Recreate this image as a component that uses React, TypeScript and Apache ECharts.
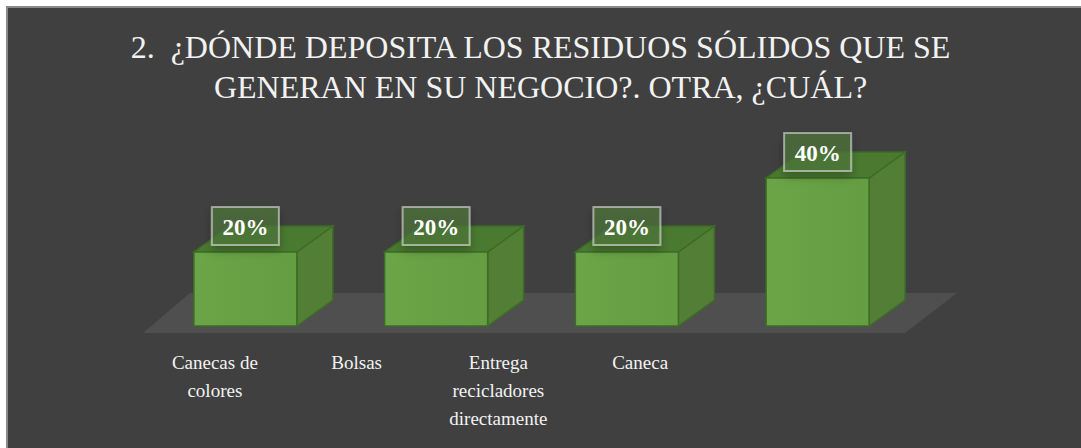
import { useEffect, useRef } from 'react';
import * as echarts from 'echarts';

const titleText = '2.  ¿DÓNDE DEPOSITA LOS RESIDUOS SÓLIDOS QUE SE\nGENERAN EN SU NEGOCIO?. OTRA, ¿CUÁL?';
const categories = ['Canecas de\ncolores', 'Bolsas', 'Entrega\nrecicladores\ndirectamente', 'Caneca'];
const values = [0.2, 0.2, 0.2, 0.4];

const DX = 36;
const DY = 26;
const SERIF = '"Liberation Serif", "Times New Roman", serif';

export default function App() {
  const ref = useRef<HTMLDivElement>(null);
  useEffect(() => {
    const chart = echarts.init(ref.current!, null, { renderer: 'svg' });
    const renderItem = (params: any, api: any) => {
      const i = api.value(0);
      const v = api.value(1);
      const top = api.coord([i, v]);
      const base = api.coord([i, 0]);
      const w = api.size([1, 0])[0] * 0.54;
      const xc = top[0];
      const x0 = xc - w / 2;
      const x1 = xc + w / 2;
      const yT = top[1];
      const yB = base[1];
      const edge = '#3e6b27';
      return {
        type: 'group',
        children: [
          {
            type: 'polygon',
            shape: { points: [[x1, yT], [x1 + DX, yT - DY], [x1 + DX, yB - DY], [x1, yB]] },
            style: { fill: '#527f35', stroke: edge, lineWidth: 1.5 },
          },
          {
            type: 'polygon',
            shape: { points: [[x0, yT], [x1, yT], [x1 + DX, yT - DY], [x0 + DX, yT - DY]] },
            style: { fill: '#4a7a30', stroke: edge, lineWidth: 1.5 },
          },
          {
            type: 'rect',
            shape: { x: x0, y: yT, width: w, height: yB - yT },
            style: {
              fill: new echarts.graphic.LinearGradient(0, 0, 1, 0, [
                { offset: 0, color: '#6ba548' },
                { offset: 1, color: '#659d42' },
              ]),
              stroke: edge,
              lineWidth: 1.5,
            },
          },
          {
            type: 'rect',
            shape: { x: xc - 33.5, y: yT - DY - 19, width: 67, height: 38 },
            style: {
              fill: 'rgba(78,120,58,0.7)',
              stroke: 'rgba(220,220,220,0.6)',
              lineWidth: 2,
              shadowBlur: 10,
              shadowColor: 'rgba(0,0,0,0.35)',
              shadowOffsetY: 5,
            },
          },
          {
            type: 'text',
            x: xc,
            y: yT - DY + 1,
            style: {
              text: Math.round(v * 100) + '%',
              fill: '#ffffff',
              fontFamily: SERIF,
              fontWeight: 'bold',
              fontSize: 23,
              align: 'center',
              verticalAlign: 'middle',
            },
          },
        ],
      };
    };
    chart.setOption({
      animation: false,
      backgroundColor: '#ffffff',
      title: {
        text: titleText,
        left: 'center',
        top: 27,
        padding: 0,
        textStyle: {
          color: '#f2f2f2',
          fontFamily: SERIF,
          fontWeight: 'normal',
          fontSize: 32,
          lineHeight: 40,
          align: 'center',
        },
      },
      graphic: [
        {
          type: 'rect',
          z: -10,
          shape: { x: 7, y: 7, width: 1090, height: 460 },
          style: { fill: '#404040' },
        },
        {
          type: 'line',
          z: -9,
          shape: { x1: 7, y1: 6, x2: 7, y2: 448 },
          style: { stroke: '#8a8a8a', lineWidth: 2 },
        },
        {
          type: 'line',
          z: -9,
          shape: { x1: 6, y1: 7, x2: 1081, y2: 7 },
          style: { stroke: '#8a8a8a', lineWidth: 2 },
        },
        {
          type: 'polygon',
          z: -9,
          shape: { points: [[143, 333], [905, 333], [957, 293], [190, 293]] },
          style: { fill: '#504f50' },
        },
      ],
      grid: [
        { left: 150, right: 168, top: 141, bottom: 122 },
        { left: 144, width: 567, top: 300, bottom: 118 },
      ],
      xAxis: [
        {
          type: 'category',
          gridIndex: 0,
          data: categories,
          axisLine: { show: false },
          axisTick: { show: false },
          axisLabel: { show: false },
        },
        {
          type: 'category',
          gridIndex: 1,
          data: categories,
          axisLine: { show: false },
          axisTick: { show: false },
          axisLabel: {
            interval: 0,
            color: '#f2f2f2',
            fontFamily: SERIF,
            fontSize: 19,
            lineHeight: 28,
            margin: 18,
          },
        },
      ],
      yAxis: [
        { type: 'value', gridIndex: 0, min: 0, max: 0.5, show: false },
        { type: 'value', gridIndex: 1, min: 0, max: 1, show: false },
      ],
      series: [
        {
          type: 'custom',
          xAxisIndex: 0,
          yAxisIndex: 0,
          renderItem,
          encode: { x: 0, y: 1 },
          data: values.map((v, i) => [i, v]),
        },
      ],
    });
    return () => chart.dispose();
  }, []);
  return (
    <div
      ref={ref}
      style={{ position: 'fixed', left: 0, top: 0, width: 1081, height: 448 }}
    />
  );
}
